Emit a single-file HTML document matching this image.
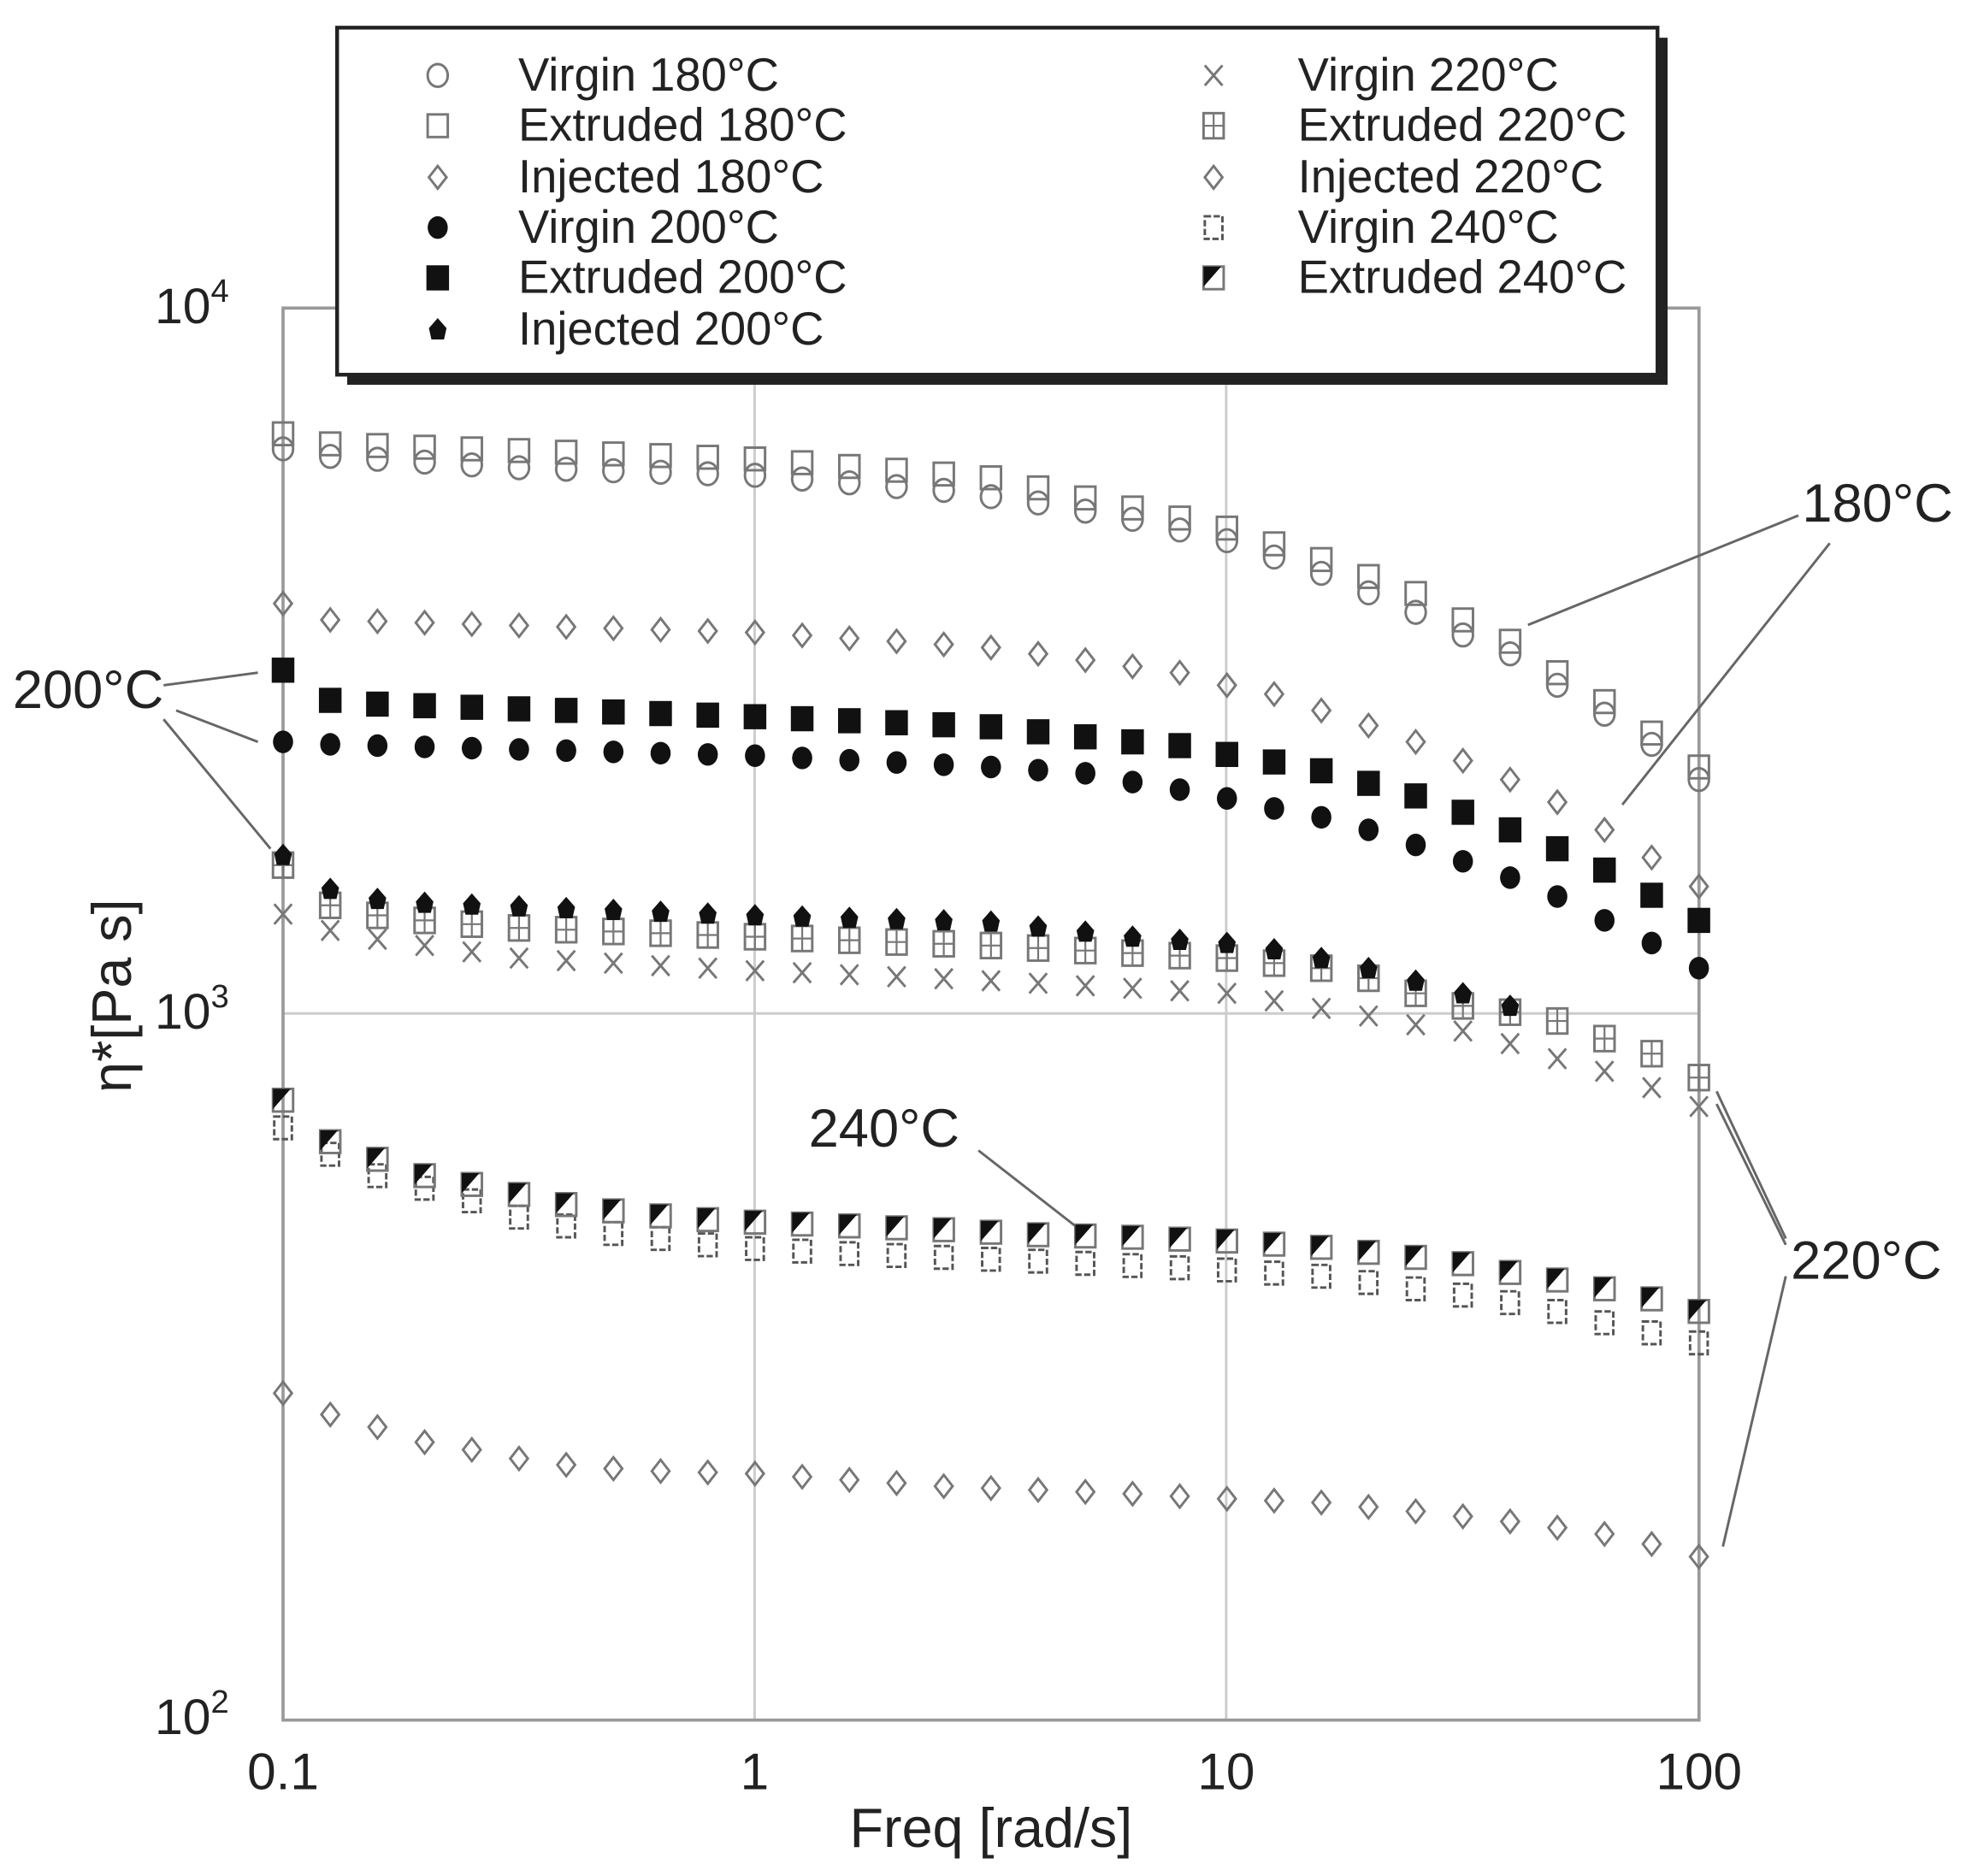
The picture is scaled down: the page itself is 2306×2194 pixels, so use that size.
<!DOCTYPE html>
<html><head><meta charset="utf-8"><style>
html,body{margin:0;padding:0;background:#fff}
svg{display:block}
text{font-family:"Liberation Sans",sans-serif;fill:#222}
</style></head><body>
<svg id="s" width="2306" height="2194" viewBox="0 0 1568 1492" xmlns="http://www.w3.org/2000/svg">
<rect width="1568" height="1492" fill="#fff"/>
<g stroke="#ccc" stroke-width="2">
<line x1="600" y1="245" x2="600" y2="1368"/><line x1="975" y1="245" x2="975" y2="1368"/>
<line x1="225" y1="806" x2="1351" y2="806"/>
</g>
<rect x="225" y="245" width="1126" height="1123" fill="none" stroke="#999" stroke-width="2.5"/>
<g id="pts"></g>
<g stroke="#666" stroke-width="2" fill="none">
<line x1="1430" y1="410" x2="1215" y2="497"/>
<line x1="1455" y1="432" x2="1290" y2="640"/>
<line x1="130" y1="545" x2="205" y2="535"/>
<line x1="140" y1="565" x2="205" y2="590"/>
<line x1="130" y1="572" x2="215" y2="675"/>
<line x1="778" y1="915" x2="855" y2="975"/>
<line x1="1420" y1="985" x2="1365" y2="868"/>
<line x1="1420" y1="990" x2="1365" y2="878"/>
<line x1="1420" y1="1015" x2="1370" y2="1230"/>
</g>
<g font-size="43">
<text x="1433" y="415">180°C</text>
<text x="10" y="563">200°C</text>
<text x="643" y="912">240°C</text>
<text x="1424" y="1017">220°C</text>
</g>
<g font-size="41" text-anchor="middle">
<text x="225" y="1423">0.1</text><text x="600" y="1423">1</text>
<text x="975" y="1423">10</text><text x="1351" y="1423">100</text>
<text x="788" y="1469" font-size="44">Freq [rad/s]</text>
</g>
<g font-size="40" text-anchor="end">
<text x="182" y="257">10<tspan font-size="26" dy="-17">4</tspan></text>
<text x="182" y="818">10<tspan font-size="26" dy="-17">3</tspan></text>
<text x="182" y="1379">10<tspan font-size="26" dy="-17">2</tspan></text>
</g>
<text font-size="44" transform="translate(104,792) rotate(-90)" text-anchor="middle">η*[Pa s]</text>
<rect x="276" y="30" width="1050" height="276" fill="#222"/>
<rect x="268" y="22" width="1050" height="276" fill="#fff" stroke="#222" stroke-width="3"/>
<g id="leg"></g>
<g font-size="37">
<text x="412" y="72">Virgin 180°C</text><text x="412" y="112">Extruded 180°C</text>
<text x="412" y="153">Injected 180°C</text><text x="412" y="193">Virgin 200°C</text>
<text x="412" y="233">Extruded 200°C</text><text x="412" y="274">Injected 200°C</text>
<text x="1032" y="72">Virgin 220°C</text><text x="1032" y="112">Extruded 220°C</text>
<text x="1032" y="153">Injected 220°C</text><text x="1032" y="193">Virgin 240°C</text>
<text x="1032" y="233">Extruded 240°C</text>
</g>
</svg>
<script>
function interp(a,i){for(var k=0;k<a.length-1;k++){var p=a[k],q=a[k+1];if(i>=p[0]&&i<=q[0])return p[1]+(q[1]-p[1])*(i-p[0])/(q[0]-p[0]);}return a[a.length-1][1];}
function mk(t,x,y){var g="#777",d="#111";switch(t){
case"oc":return'<ellipse cx="'+x+'" cy="'+y+'" rx="8" ry="9" fill="none" stroke="'+g+'" stroke-width="2"/>';
case"os":return'<rect x="'+(x-8)+'" y="'+(y-9)+'" width="16" height="18" fill="none" stroke="'+g+'" stroke-width="2"/>';
case"od":return'<path d="M'+x+' '+(y-9)+'L'+(x+7)+' '+y+'L'+x+' '+(y+9)+'L'+(x-7)+' '+y+'Z" fill="none" stroke="'+g+'" stroke-width="2"/>';
case"fc":return'<ellipse cx="'+x+'" cy="'+y+'" rx="8" ry="9" fill="'+d+'"/>';
case"fs":return'<rect x="'+(x-9)+'" y="'+(y-10)+'" width="18" height="20" fill="'+d+'"/>';
case"fd":return'<path d="M'+x+' '+(y-9)+'L'+(x+7)+' '+(y-1)+'L'+(x+5)+' '+(y+8)+'L'+(x-5)+' '+(y+8)+'L'+(x-7)+' '+(y-1)+'Z" fill="'+d+'"/>';
case"x":return'<path d="M'+(x-7)+' '+(y-8)+'L'+(x+7)+' '+(y+8)+'M'+(x+7)+' '+(y-8)+'L'+(x-7)+' '+(y+8)+'" stroke="'+g+'" stroke-width="2"/>';
case"sp":return'<rect x="'+(x-8)+'" y="'+(y-10)+'" width="16" height="20" fill="none" stroke="'+g+'" stroke-width="2"/><path d="M'+x+' '+(y-10)+'V'+(y+10)+'M'+(x-8)+' '+y+'H'+(x+8)+'" stroke="'+g+'" stroke-width="1.5"/>';
case"ss":return'<rect x="'+(x-7)+'" y="'+(y-9)+'" width="14" height="18" fill="none" stroke="#555" stroke-width="2" stroke-dasharray="5 2"/>';
case"hs":return'<rect x="'+(x-8)+'" y="'+(y-9)+'" width="16" height="18" fill="none" stroke="'+g+'" stroke-width="2"/><path d="M'+(x-8)+' '+(y-9)+'H'+(x+6)+'L'+(x-8)+' '+(y+7)+'Z" fill="'+d+'"/>';}}
var S=[
["os",[[0,345],[1,353],[10,365],[15,380],[20,420],[22,445],[24,472],[25,493],[26,510],[27,535],[28,558],[29,583],[30,610]]],
["oc",[[0,357],[1,363],[5,372],[10,378],[14,390],[16,400],[18,413],[20,430],[22,456],[24,487],[25,505],[26,520],[27,545],[28,568],[29,592],[30,620]]],
["od",[[0,480],[1,493],[10,503],[13,510],[15,515],[17,525],[19,535],[20,545],[21,552],[22,565],[23,577],[24,590],[25,605],[26,620],[27,638],[28,660],[29,682],[30,705]]],
["fs",[[0,533],[1,557],[2,560],[10,570],[15,578],[18,590],[19,593],[20,600],[21,606],[22,613],[23,623],[24,633],[25,646],[26,660],[27,675],[28,692],[29,712],[30,732]]],
["fc",[[0,590],[1,592],[10,601],[15,610],[17,615],[18,622],[19,628],[20,635],[21,643],[22,650],[23,660],[24,672],[25,685],[26,698],[27,713],[28,732],[29,750],[30,770]]],
["x",[[0,727],[1,740],[2,747],[3,752],[5,762],[10,772],[15,780],[20,790],[21,796],[22,802],[23,808],[24,815],[25,820],[26,830],[27,842],[28,852],[29,865],[30,880]]],
["sp",[[0,688],[1,720],[2,728],[3,732],[5,738],[10,745],[15,752],[20,762],[22,770],[23,778],[24,790],[25,800],[26,805],[27,812],[28,826],[29,838],[30,857]]],
["fd",[[0,680],[1,707],[2,715],[3,718],[10,728],[15,733],[18,745],[20,750],[21,755],[22,762],[23,770],[24,780],[25,790],[26,800]]],
["ss",[[0,897],[1,918],[2,935],[3,945],[4,955],[5,968],[6,975],[7,981],[8,985],[9,990],[10,993],[12,997],[14,1000],[16,1003],[20,1010],[22,1015],[23,1020],[25,1030],[26,1036],[27,1043],[28,1052],[29,1060],[30,1068]]],
["hs",[[0,875],[1,908],[2,922],[3,935],[4,942],[5,950],[6,958],[7,963],[8,967],[9,970],[10,972],[12,975],[14,978],[16,982],[18,984],[20,987],[22,992],[23,996],[24,1000],[25,1005],[26,1012],[27,1018],[28,1025],[29,1033],[30,1043]]],
["od",[[0,1108],[1,1125],[2,1135],[3,1147],[4,1153],[5,1160],[6,1165],[7,1168],[8,1170],[10,1172],[12,1177],[14,1182],[16,1185],[18,1188],[20,1192],[22,1195],[24,1202],[26,1210],[28,1220],[29,1228],[30,1238]]]];
var h="";S.forEach(function(s){var a=s[1],n=a[a.length-1][0];for(var i=0;i<=n;i++){h+=mk(s[0],225+i*37.53,interp(a,i));}});
document.getElementById("pts").innerHTML=h;
var L=[["oc",348,60],["os",348,100],["od",348,141],["fc",348,181],["fs",348,221],["fd",348,262],["x",965,60],["sp",965,100],["od",965,141],["ss",965,181],["hs",965,221]];
var g="";L.forEach(function(l){g+=mk(l[0],l[1],l[2]);});document.getElementById("leg").innerHTML=g;
</script>
</body></html>
